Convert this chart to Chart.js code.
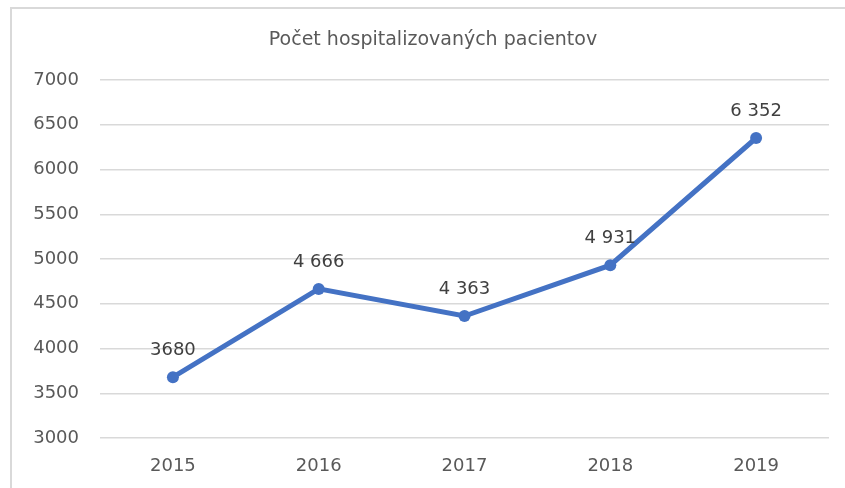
<!DOCTYPE html>
<html lang="sk">
<head>
    <meta charset="UTF-8">
    <title>Počet hospitalizovaných pacientov</title>
    <script src="https://cdn.jsdelivr.net/npm/chart.js@4.4.3/dist/chart.umd.min.js"></script>
    <style>
        html, body { margin: 0; padding: 0; background: #ffffff; overflow: hidden; }
        #wrap { position: relative; width: 845px; height: 488px; }
        /* frame of the original chart object, cut off at right and bottom */
        #frame {
            position: absolute; left: 10px; top: 7px; width: 900px; height: 540px;
            border: 2px solid #d9d9d9; box-sizing: border-box; pointer-events: none;
        }
        #chart { position: absolute; left: 0; top: 0; }
    </style>
</head>
<body>
<div id="wrap">
    <div id="frame"></div>
    <canvas id="chart" width="845" height="488"></canvas>
</div>
<script>
    // chart data
    const chartTitle = 'Počet hospitalizovaných pacientov';
    const years = ['2015', '2016', '2017', '2018', '2019'];
    const patients = [3680, 4666, 4363, 4931, 6352];
    const valueLabels = ['3680', '4 666', '4 363', '4 931', '6 352'];
    const yMin = 3000;
    const yMax = 7000;
    const yStep = 500;

    const FONT = '"DejaVu Sans", sans-serif';

    // title centred on the whole frame (not only on the canvas minus padding),
    // plus the value written above each point like Excel data labels
    const textLayer = {
        id: 'textLayer',
        afterDraw(chart) {
            const ctx = chart.ctx;
            ctx.save();
            ctx.textAlign = 'center';
            ctx.textBaseline = 'middle';

            ctx.font = '19px ' + FONT;
            ctx.fillStyle = '#595959';
            ctx.fillText(chartTitle, 433, 40);

            ctx.font = '18px ' + FONT;
            ctx.fillStyle = '#404040';
            chart.getDatasetMeta(0).data.forEach((pt, i) => {
                ctx.fillText(valueLabels[i], pt.x, pt.y - 27);
            });
            ctx.restore();
        }
    };

    new Chart(document.getElementById('chart'), {
        type: 'line',
        data: {
            labels: years,
            datasets: [{
                data: patients,
                borderColor: '#4472c4',
                backgroundColor: '#4472c4',
                borderWidth: 5,
                pointRadius: 6,
                pointHoverRadius: 6,
                pointBorderWidth: 0,
                tension: 0
            }]
        },
        options: {
            responsive: false,
            animation: false,
            layout: { padding: { left: 0, right: 16, top: 80, bottom: 0 } },
            plugins: {
                legend: { display: false },
                tooltip: { enabled: false },
                title: { display: false }
            },
            scales: {
                x: {
                    offset: true,
                    afterFit(scale) { scale.height = 50; },
                    grid: { display: false },
                    border: { display: false },
                    ticks: { color: '#595959', font: { family: FONT, size: 18 }, padding: 10 }
                },
                y: {
                    min: yMin,
                    max: yMax,
                    afterFit(scale) { scale.width = 100; },
                    grid: { color: '#d9d9d9', lineWidth: 1.5, drawTicks: false },
                    border: { display: false },
                    ticks: {
                        stepSize: yStep,
                        color: '#595959',
                        font: { family: FONT, size: 18 },
                        padding: 21,
                        callback: (v) => String(v)
                    }
                }
            }
        },
        plugins: [textLayer]
    });
</script>
</body>
</html>
